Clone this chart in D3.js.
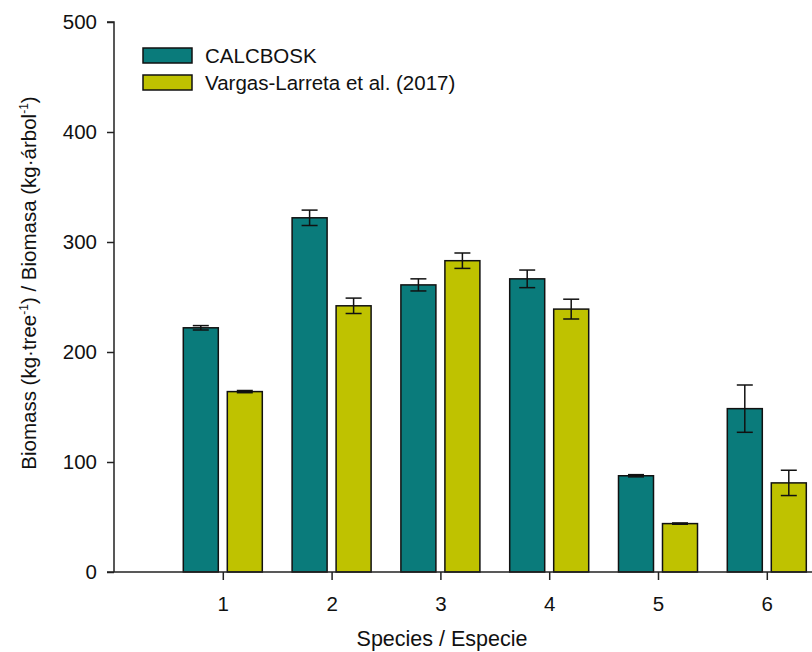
<!DOCTYPE html>
<html><head><meta charset="utf-8">
<script src="https://cdn.jsdelivr.net/npm/d3@7"></script>
<style>body{margin:0;background:#fff}svg{display:block;font-family:"Liberation Sans",Arial,sans-serif}</style>
</head><body>
<svg id="c" width="812" height="652"></svg>
<script>
const categories = [1, 2, 3, 4, 5, 6];
const seriesNames = ["CALCBOSK", "Vargas-Larreta et al. (2017)"];
const calcbosk = [222, 322, 261, 266.5, 87.5, 148.5];
const calcboskErr = [2, 7, 5.5, 8, 1, 21.5];
const vargas = [164, 242, 283, 239, 44, 81];
const vargasErr = [1, 7, 7, 9, 0.6, 11.5];
const yTicks = [0, 100, 200, 300, 400, 500];
const colors = ["#0a7b7b", "#bfc200"];

const FS = 20.5;
const svg = d3.select("#c");
const x = d3.scaleLinear().domain([0, 7]).range([114, 875.6]);
const y = d3.scaleLinear().domain([0, 500]).range([572, 22]);
const bw = 35, off = 22;

const series = [
  {name: seriesNames[0], vals: calcbosk, err: calcboskErr, color: colors[0], dx: -off},
  {name: seriesNames[1], vals: vargas, err: vargasErr, color: colors[1], dx: off}
];

const g = svg.append("g");
series.forEach(s => {
  categories.forEach((c, i) => {
    const cx = x(c) + s.dx;
    g.append("rect").attr("x", cx - bw/2).attr("y", y(s.vals[i]))
      .attr("width", bw).attr("height", y(0) - y(s.vals[i]))
      .attr("fill", s.color).attr("stroke", "#111").attr("stroke-width", 1.5);
    const top = y(s.vals[i] + s.err[i]), bot = y(s.vals[i] - s.err[i]);
    g.append("line").attr("x1", cx).attr("x2", cx).attr("y1", top).attr("y2", bot)
      .attr("stroke", "#111").attr("stroke-width", 1.5);
    [top, bot].forEach(yy => g.append("line").attr("x1", cx - 8).attr("x2", cx + 8)
      .attr("y1", yy).attr("y2", yy).attr("stroke", "#111").attr("stroke-width", 1.5));
  });
});

// y axis
const ya = svg.append("g").attr("transform", "translate(114,0)")
  .call(d3.axisLeft(y).tickValues(yTicks).tickSize(7).tickPadding(10).tickFormat(d3.format("d")));
ya.select(".domain").attr("d", `M0,${y(0)}V${y(500)}H-7`);
// x axis
const xa = svg.append("g").attr("transform", `translate(0,${y(0)})`)
  .call(d3.axisBottom(x).tickValues(categories).tickSize(8).tickPadding(16).tickFormat(d3.format("d")));
xa.select(".domain").attr("d", `M107,0H875`);
[ya, xa].forEach(a => {
  a.selectAll("path,line").attr("stroke", "#222").attr("stroke-width", 1.5);
  a.selectAll("text").attr("font-size", FS).attr("fill", "#111")
    .attr("font-family", '"Liberation Sans",Arial,sans-serif');
});

// axis titles
svg.append("text").attr("x", 442).attr("y", 646).attr("text-anchor", "middle")
  .attr("font-size", 21.5).attr("fill", "#111").text("Species / Especie");
const yt = svg.append("text").attr("transform", "translate(36,283) rotate(-90)")
  .attr("text-anchor", "middle").attr("font-size", FS).attr("fill", "#111");
yt.append("tspan").text("Biomass (kg·tree");
yt.append("tspan").attr("font-size", 12).attr("dy", -8).text("-1");
yt.append("tspan").attr("dy", 8).text(") / Biomasa (kg·árbol");
yt.append("tspan").attr("font-size", 12).attr("dy", -8).text("-1");
yt.append("tspan").attr("dy", 8).text(")");

// legend
series.forEach((s, i) => {
  const ly = 48 + i * 27;
  svg.append("rect").attr("x", 143).attr("y", ly).attr("width", 49).attr("height", 15)
    .attr("fill", s.color).attr("stroke", "#111").attr("stroke-width", 1.5);
  svg.append("text").attr("x", 205).attr("y", ly + 15).attr("font-size", FS)
    .attr("fill", "#111").text(s.name);
});
</script>
</body></html>
